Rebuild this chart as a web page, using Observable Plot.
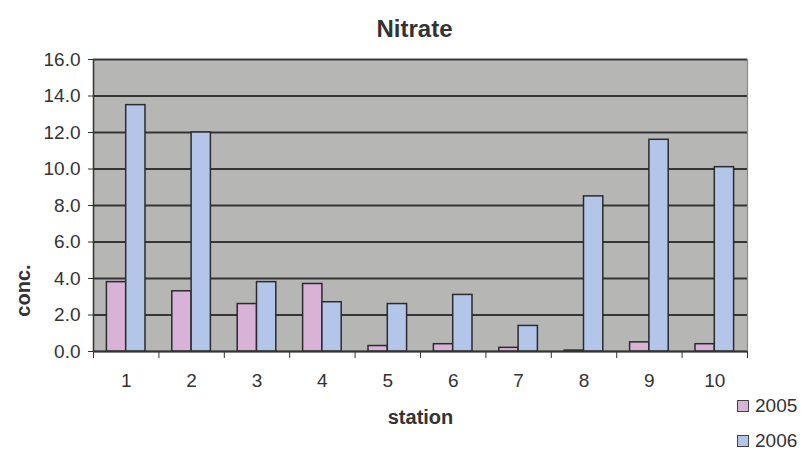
<!DOCTYPE html>
<html>
<head>
<meta charset="utf-8">
<script src="https://cdn.jsdelivr.net/npm/d3@7"></script>
<script src="https://cdn.jsdelivr.net/npm/@observablehq/plot@0.6"></script>
<style>
  body { margin: 0; background: #fff; font-family: "Liberation Sans", Arial, sans-serif; }
  #wrap { position: relative; width: 803px; height: 454px; }
  .legend { position: absolute; left: 737px; font-size: 19px; color: #333; display: flex; align-items: center; line-height: 22px; }
  .legend span.sw { display: inline-block; width: 10px; height: 10px; border: 1px solid #444; margin-right: 6px; }
</style>
</head>
<body>
<div id="wrap"></div>
<script>
// Nitrate concentration per sampling station, two sampling years
const stations = [1, 2, 3, 4, 5, 6, 7, 8, 9, 10];
const nitrate2005 = [3.8, 3.3, 2.6, 3.7, 0.3, 0.4, 0.2, 0.05, 0.5, 0.4];
const nitrate2006 = [13.5, 12.0, 3.8, 2.7, 2.6, 3.1, 1.4, 8.5, 11.6, 10.1];
const years = ["2005", "2006"];
const yTicks = [0, 2, 4, 6, 8, 10, 12, 14, 16];

const colors = {"2005": "#d9b2d8", "2006": "#b3c6ea"};
const barW = 0.295; // width of each bar, in station units

const rows = [];
stations.forEach((s, i) => {
  rows.push({station: s, year: "2005", value: nitrate2005[i], x1: s - barW, x2: s});
  rows.push({station: s, year: "2006", value: nitrate2006[i], x1: s, x2: s + barW});
});

// category boundaries carry the x-axis tick marks
const boundaries = stations.map(s => s - 0.5).concat([stations[stations.length - 1] + 0.5]);

const chart = Plot.plot({
  width: 803,
  height: 454,
  marginTop: 59,
  marginBottom: 103,
  marginLeft: 93,
  marginRight: 56,
  style: {fontFamily: "Liberation Sans, Arial, sans-serif", background: "transparent"},
  x: {domain: [0.5, 10.5], axis: null},
  y: {domain: [0, 16], axis: null},
  marks: [
    Plot.frame({fill: "#b6b6b4", stroke: "none"}),
    Plot.gridY(yTicks, {stroke: "#1e1e1e", strokeOpacity: 0.85, strokeWidth: 1.8}),
    Plot.rectY(rows, {
      x1: "x1", x2: "x2", y: "value",
      fill: d => colors[d.year],
      stroke: "#2b2b2b", strokeWidth: 1.5
    }),
    Plot.ruleX([0.5], {stroke: "#333", strokeWidth: 1.5}),
    Plot.ruleX([10.5], {stroke: "#8a8a8a", strokeWidth: 1.2}),
    Plot.ruleY([0], {stroke: "#333", strokeWidth: 1.5}),
    Plot.axisY({
      ticks: yTicks, tickFormat: d => d.toFixed(1), tickSize: 5, tickPadding: 8,
      fontSize: 19, fill: "#333", stroke: "#333", label: null
    }),
    Plot.axisX({
      ticks: boundaries, tickSize: 7, tickFormat: () => "", stroke: "#333", label: null
    }),
    Plot.axisX({
      ticks: stations, tickSize: 0, tickPadding: 22, tickFormat: d => String(d),
      fontSize: 19, fill: "#333", label: null
    }),
    Plot.text(["Nitrate"], {frameAnchor: "top", dx: -6, dy: -40, fontSize: 24, fontWeight: "bold", fill: "#333"}),
    Plot.text(["station"], {frameAnchor: "bottom", dy: 72, fontSize: 20, fontWeight: "bold", fill: "#333"}),
    Plot.text(["conc."], {
      frameAnchor: "left", textAnchor: "middle", dx: -70, dy: 85, rotate: -90,
      fontSize: 20, fontWeight: "bold", fill: "#333"
    })
  ]
});

const wrap = document.getElementById("wrap");
wrap.appendChild(chart);

// legend to the lower right of the plot area
years.forEach((y, i) => {
  const item = document.createElement("div");
  item.className = "legend";
  item.style.top = (395 + i * 35) + "px";
  const sw = document.createElement("span");
  sw.className = "sw";
  sw.style.background = colors[y];
  item.appendChild(sw);
  item.appendChild(document.createTextNode(y));
  wrap.appendChild(item);
});
</script>
</body>
</html>
